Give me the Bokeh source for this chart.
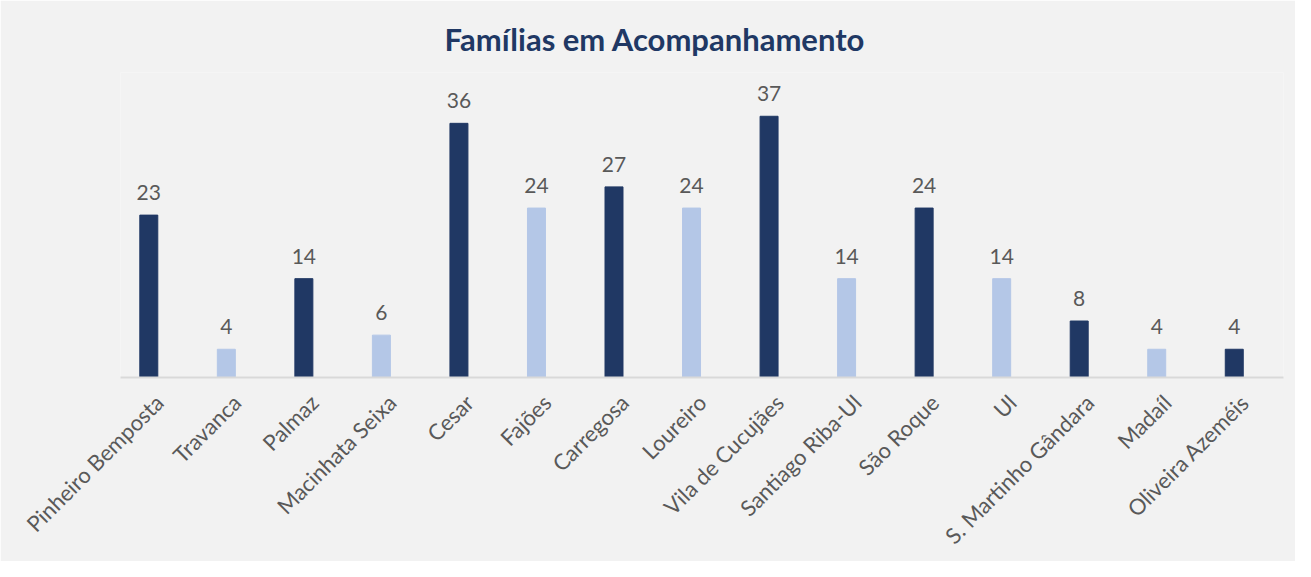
from math import pi
from bokeh.plotting import figure
from bokeh.models import ColumnDataSource, FactorRange, Range1d, LabelSet
from bokeh.transform import dodge
from bokeh.core.properties import value
from bokeh.embed import file_html
from bokeh.resources import INLINE

categories = ["Pinheiro Bemposta", "Travanca", "Palmaz", "Macinhata Seixa", "Cesar",
              "Fajões", "Carregosa", "Loureiro", "Vila de Cucujães", "Santiago Riba-Ul",
              "São Roque", "Ul", "S. Martinho Gândara", "Madaíl", "Oliveira Azeméis"]
values = [23, 4, 14, 6, 36, 24, 27, 24, 37, 14, 24, 14, 8, 4, 4]
bar_colors = ["#203864", "#b4c7e7"] * 7 + ["#203864"]

source = ColumnDataSource(dict(
    cat=categories, val=values, lbl=[str(v) for v in values], color=bar_colors))

p = figure(x_range=FactorRange(*categories), y_range=Range1d(0, 43.2),
           width=1295, height=561, output_backend="svg", toolbar_location=None,
           min_border_left=120, min_border_right=12, min_border_top=72,
           min_border_bottom=183,
           background_fill_color="#f2f2f2", border_fill_color="#f2f2f2",
           outline_line_color=None)

p.title.text = "Famílias em Acompanhamento"
p.title.align = "left"
p.title.offset = 324
p.title.text_font = "Lato"
p.title.text_font_style = "bold"
p.title.text_font_size = "31px"
p.title.text_color = "#203864"
p.title.standoff = 30

xoff = dodge("cat", -0.135, range=p.x_range)
p.vbar(x=xoff, top="val", width=0.232, source=source,
       fill_color="color", line_color="color")

labels = LabelSet(x=xoff, y="val", text="lbl", source=source,
                  text_align="center", text_baseline="bottom", y_offset=15,
                  text_font=value("Lato"), text_font_size=value("21px"),
                  text_color="#595959")
p.add_layout(labels)

p.xaxis.axis_line_color = "#d9d9d9"
p.xaxis.axis_line_width = 2
p.xaxis.major_tick_line_color = None
p.xaxis.minor_tick_line_color = None
p.xaxis.major_label_orientation = pi / 4
p.xaxis.major_label_text_font = "Lato"
p.xaxis.major_label_text_font_size = "22px"
p.xaxis.major_label_text_color = "#595959"
p.xaxis.major_label_standoff = 15
p.yaxis.visible = False
p.xgrid.visible = False
p.ygrid.visible = False

open("out.html", "w").write(file_html(p, INLINE))
